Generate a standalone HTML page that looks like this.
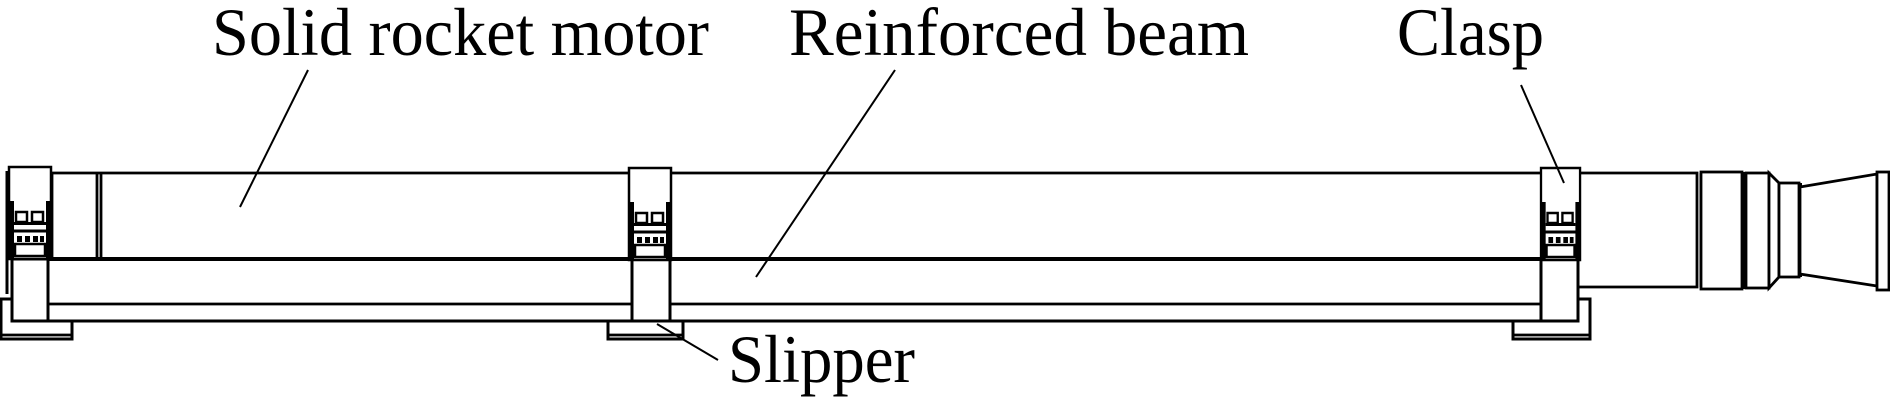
<!DOCTYPE html>
<html><head><meta charset="utf-8"><style>
html,body{margin:0;padding:0;background:#fff;}
svg{display:block;}
text{font-family:"Liberation Serif",serif;font-size:68px;fill:#000;}
</style></head><body>
<svg width="1890" height="402" viewBox="0 0 1890 402" xmlns="http://www.w3.org/2000/svg">
<defs>
<g id="clasp">
  <rect x="0" y="0" width="42" height="92" fill="#fff" stroke="#000" stroke-width="2.5"/>
  <rect x="0" y="34" width="5" height="58" fill="#000"/>
  <rect x="37" y="34" width="5" height="58" fill="#000"/>
  <rect x="7" y="45" width="11" height="10" fill="#fff" stroke="#000" stroke-width="2.5"/>
  <rect x="23" y="45" width="11" height="10" fill="#fff" stroke="#000" stroke-width="2.5"/>
  <rect x="5" y="55" width="32" height="3" fill="#000"/>
  <line x1="2" y1="64" x2="40" y2="64" stroke="#000" stroke-width="3"/>
  <rect x="8" y="69" width="5" height="6" fill="#000"/>
  <rect x="16" y="69" width="5" height="6" fill="#000"/>
  <rect x="24" y="69" width="5" height="6" fill="#000"/>
  <rect x="31" y="69" width="4" height="6" fill="#000"/>
  <rect x="6" y="77" width="30" height="12" fill="#fff" stroke="#000" stroke-width="2.5"/>
</g>
</defs>
<g fill="none" stroke="#000" stroke-width="2.8">
  <!-- slippers -->
  <rect x="1" y="299" width="71" height="40" fill="#fff" stroke-width="3"/>
  <line x1="1" y1="335" x2="72" y2="335"/>
  <rect x="608" y="321" width="75" height="18" fill="#fff" stroke-width="3"/>
  <line x1="608" y1="335" x2="683" y2="335"/>
  <rect x="1513" y="299" width="77" height="40" fill="#fff" stroke-width="3"/>
  <line x1="1513" y1="335" x2="1590" y2="335"/>
  <!-- motor tube -->
  <path d="M52,259 L52,173 L1697,173 L1697,287 L1578,287" fill="#fff"/>
  <line x1="1701" y1="173" x2="1701" y2="287"/>
  <line x1="97" y1="173" x2="97" y2="259"/>
  <line x1="101" y1="173" x2="101" y2="259"/>
  <!-- left outer line -->
  <line x1="7" y1="171" x2="7" y2="294" stroke-width="3"/>
  <!-- beam -->
  <rect x="12" y="259" width="1566" height="62" fill="#fff" stroke-width="3"/>
  <line x1="12" y1="259" x2="1578" y2="259" stroke-width="4"/>
  <line x1="12" y1="304" x2="1578" y2="304"/>
  <!-- posts -->
  <rect x="12" y="259" width="36" height="62" fill="#fff" stroke-width="3"/>
  <rect x="632" y="259" width="38" height="62" fill="#fff" stroke-width="3"/>
  <rect x="1541" y="259" width="37" height="62" fill="#fff" stroke-width="3"/>
  <!-- nozzle section -->
  <rect x="1701" y="172" width="41" height="117" fill="#fff"/>
  <rect x="1742" y="172" width="4" height="117" fill="#000" stroke="none"/>
  <rect x="1746" y="173" width="23" height="115" fill="#fff"/>
  <polygon points="1769,173 1779,183 1779,277 1769,288" fill="#fff"/>
  <rect x="1779" y="183" width="20" height="94" fill="#fff"/>
  <line x1="1800" y1="183" x2="1800" y2="277" stroke-width="4"/>
  <polygon points="1800,187 1877,174 1877,286 1800,274" fill="#fff"/>
  <rect x="1877" y="172" width="12" height="118" fill="#fff"/>
</g>
<use href="#clasp" transform="translate(9,167)"/>
<use href="#clasp" transform="translate(629,168)"/>
<use href="#clasp" transform="translate(1541,168) scale(0.93,1)"/>
<!-- leaders -->
<g stroke="#000" stroke-width="2">
  <line x1="308" y1="70" x2="240" y2="207"/>
  <line x1="895" y1="70" x2="756" y2="277"/>
  <line x1="1521" y1="85" x2="1564" y2="183"/>
  <line x1="657" y1="324" x2="718" y2="360"/>
</g>
<text x="212" y="55" textLength="497" lengthAdjust="spacingAndGlyphs">Solid rocket motor</text>
<text x="789" y="55" textLength="460" lengthAdjust="spacingAndGlyphs">Reinforced beam</text>
<text x="1397" y="55" textLength="147" lengthAdjust="spacingAndGlyphs">Clasp</text>
<text x="728" y="382" textLength="187" lengthAdjust="spacingAndGlyphs">Slipper</text>
</svg>
</body></html>
